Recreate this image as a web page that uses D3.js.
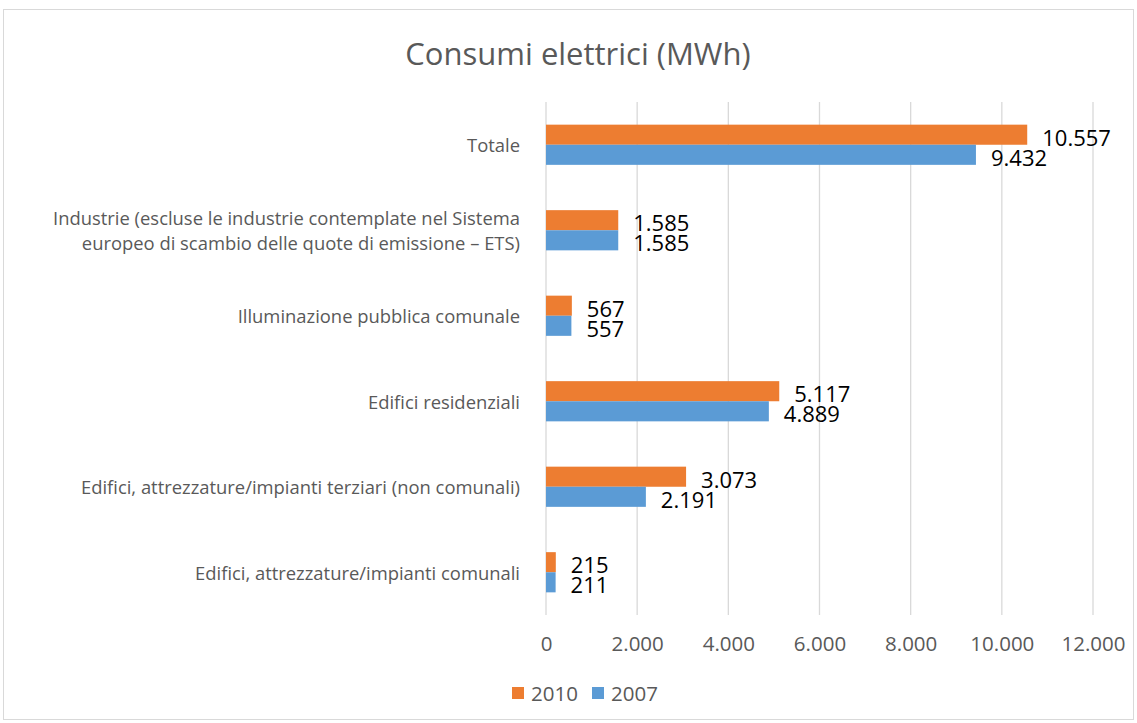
<!DOCTYPE html>
<html><head><meta charset="utf-8">
<script src="https://cdn.jsdelivr.net/npm/d3@7"></script>
<style>body{margin:0;background:#fff}svg{display:block}</style>
</head><body>
<script>
const categories = [
  "Totale",
  "Industrie (escluse le industrie contemplate nel Sistema|europeo di scambio delle quote di emissione – ETS)",
  "Illuminazione pubblica comunale",
  "Edifici residenziali",
  "Edifici, attrezzature/impianti terziari (non comunali)",
  "Edifici, attrezzature/impianti comunali"
];
const series2010 = [10557, 1585, 567, 5117, 3073, 215];
const series2007 = [9432, 1585, 557, 4889, 2191, 211];
const seriesNames = ["2010", "2007"];
const colors = ["#ED7D31", "#5B9BD5"];
const tickValues = [0, 2000, 4000, 6000, 8000, 10000, 12000];

const W = 1137, H = 723;
const font = "'Open Sans', sans-serif";
const svg = d3.select("body").append("svg").attr("width", W).attr("height", H);
svg.append("rect").attr("x", 3.5).attr("y", 9.5).attr("width", W - 7).attr("height", H - 13)
  .attr("fill", "#fff").attr("stroke", "#d9d9d9");

svg.append("text").attr("x", 578).attr("y", 53).attr("text-anchor", "middle").attr("dominant-baseline", "central")
  .attr("font-family", font).attr("font-size", 31).attr("fill", "#595959").text("Consumi elettrici (MWh)");

const x = d3.scaleLinear().domain([0, 12000]).range([546, 1093]);
const y = d3.scaleBand().domain(categories).range([102, 615]).paddingInner(0.53).paddingOuter(0.265);
const sub = d3.scaleBand().domain(seriesNames).range([0, y.bandwidth()]);

// gridlines
svg.append("g").selectAll("line").data(tickValues).join("line")
  .attr("x1", d => x(d)).attr("x2", d => x(d)).attr("y1", 102).attr("y2", 615)
  .attr("stroke", "#d9d9d9").attr("stroke-width", 1.3);

// axis labels
const xAxis = d3.axisBottom(x).tickValues(tickValues).tickSize(0)
  .tickFormat(d => d3.format(",")(d).replace(/,/g, "."));
const gx = svg.append("g").attr("transform", "translate(0,633)").call(xAxis);
gx.select(".domain").remove();
gx.selectAll("text").attr("font-family", font).attr("font-size", 20.5).attr("fill", "#595959");

const data = categories.map((c, i) => ({c, vals: [series2010[i], series2007[i]]}));
const g = svg.append("g");
data.forEach(d => {
  d.vals.forEach((v, j) => {
    const yy = y(d.c) + sub(seriesNames[j]);
    g.append("rect").attr("x", x(0)).attr("y", yy).attr("width", x(v) - x(0)).attr("height", sub.bandwidth())
      .attr("fill", colors[j]);
    g.append("text").attr("x", x(v) + 15).attr("y", yy + sub.bandwidth() / 2 + 2)
      .attr("dominant-baseline", "central").attr("font-family", font).attr("font-size", 22)
      .attr("fill", "#000").text(d3.format(",")(v).replace(/,/g, "."));
  });
  const lines = d.c.split("|");
  const cy = y(d.c) + y.bandwidth() / 2;
  const t = svg.append("text").attr("text-anchor", "end").attr("font-family", font).attr("font-size", 18.4)
    .attr("fill", "#595959");
  lines.forEach((l, k) => {
    t.append("tspan").attr("x", 520).attr("y", cy + (k - (lines.length - 1) / 2) * 25)
      .attr("dominant-baseline", "central").text(l);
  });
});

// legend
const leg = svg.append("g");
const legX = [512, 592];
seriesNames.forEach((s, j) => {
  leg.append("rect").attr("x", legX[j]).attr("y", 687).attr("width", 12).attr("height", 12).attr("fill", colors[j]);
  leg.append("text").attr("x", legX[j] + 19).attr("y", 693).attr("dominant-baseline", "central")
    .attr("font-family", font).attr("font-size", 20.5).attr("fill", "#595959").text(s);
});
</script>
</body></html>
